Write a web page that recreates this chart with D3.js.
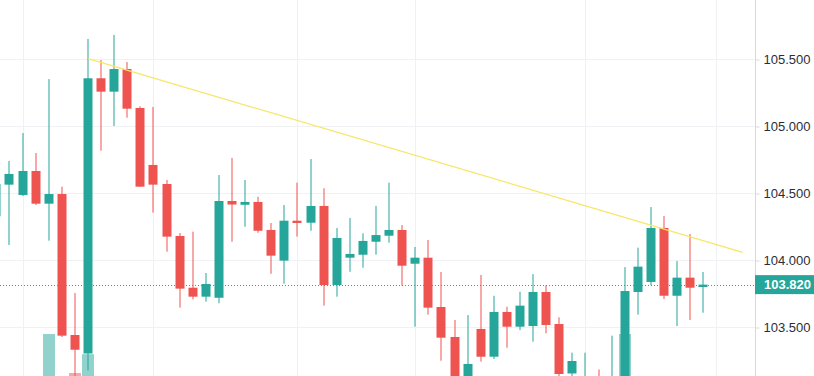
<!DOCTYPE html>
<html>
<head>
<meta charset="utf-8">
<script src="https://cdn.jsdelivr.net/npm/d3@7/dist/d3.min.js"></script>
<style>
  body { margin: 0; background: #fff; overflow: hidden; }
  .price-axis text { font-family: "Liberation Sans", Arial, sans-serif; font-size: 13px; fill: #2a2e39; }
  .price-axis line { stroke: #d6d9e0; }
  .last-label { font-family: "Liberation Sans", Arial, sans-serif; font-size: 13px; font-weight: bold; fill: #fff; }
</style>
</head>
<body>
<script>
// bar index -> OHLC (bars below the visible area are estimated)
const opens  = [104.33, 104.566, 104.489, 104.668, 104.424, 104.496, 103.444, 103.306, 105.360, 105.260,
                105.429, 105.138, 104.713, 104.571, 104.183, 103.797, 103.730, 103.722, 104.444, 104.416,
                104.437, 104.228, 103.999, 104.297, 104.282, 104.407, 103.817, 104.021, 104.043, 104.140,
                104.185, 104.228, 103.976, 104.021, 103.653, 103.429, 103.080, 103.489, 103.282, 103.616,
                103.506, 103.511, 103.765, 103.526, 103.157, 102.990, 103.100, 102.980, 103.110, 103.765,
                103.840, 104.243, 103.737, 103.872, 103.802];
const highs  = [104.62, 104.743, 104.951, 104.802, 105.354, 104.551, 103.757, 105.653, 105.496, 105.683,
                105.481, 105.151, 105.146, 104.601, 104.205, 104.215, 103.907, 104.638, 104.765, 104.601,
                104.476, 104.280, 104.414, 104.581, 104.757, 104.539, 104.243, 104.317, 104.203, 104.407,
                104.581, 104.265, 104.101, 104.153, 103.914, 103.556, 103.593, 103.892, 103.737, 103.655,
                103.767, 103.899, 103.815, 103.576, 103.312, 103.312, 103.187, 103.439, 103.951, 104.096,
                104.399, 104.332, 103.996, 104.198, 103.914];
const lows   = [104.30, 104.116, 104.481, 104.414, 104.148, 103.429, 103.100, 103.179, 104.819, 105.004,
                105.066, 104.549, 104.357, 104.066, 103.648, 103.710, 103.693, 103.681, 104.140, 104.252,
                104.207, 103.901, 103.827, 104.178, 104.222, 103.663, 103.730, 103.916, 103.946, 104.043,
                104.133, 103.812, 103.506, 103.596, 103.252, 103.020, 103.040, 103.245, 103.265, 103.349,
                103.481, 103.394, 103.457, 103.120, 103.090, 102.950, 102.940, 102.960, 103.060, 103.596,
                103.815, 103.713, 103.511, 103.556, 103.610];
const closes = [104.57, 104.646, 104.668, 104.424, 104.496, 103.439, 103.334, 105.360, 105.260, 105.429,
                105.133, 104.551, 104.566, 104.178, 103.790, 103.730, 103.825, 104.444, 104.418, 104.437,
                104.222, 104.036, 104.297, 104.280, 104.407, 103.817, 104.168, 104.049, 104.146, 104.190,
                104.228, 103.961, 104.021, 103.648, 103.424, 103.080, 103.228, 103.282, 103.616, 103.506,
                103.663, 103.765, 103.519, 103.153, 103.250, 103.100, 102.980, 103.110, 103.772, 103.954,
                104.243, 103.737, 103.872, 103.797, 103.820];
const volumes = [40, 35, 38, 42, 100, 60, 69, 84, 55, 50,
                 45, 58, 40, 48, 52, 30, 28, 55, 35, 30,
                 32, 36, 40, 28, 38, 55, 45, 25, 28, 26,
                 30, 40, 45, 50, 52, 58, 55, 45, 48, 40,
                 35, 42, 38, 55, 40, 48, 45, 50, 100, 52,
                 60, 58, 45, 42, 30];

const priceTicks = [103.5, 104.0, 104.5, 105.0, 105.5];
const timeGridBars = [2, 12, 23, 32, 45, 55];
const trendBars = [7, 57];
const trendPrices = [105.507, 104.061];
const lastPrice = 103.820;

const data = opens.map((o, i) => ({
  i, open: o, high: highs[i], low: lows[i], close: closes[i], volume: volumes[i]
}));

const W = 814, H = 376;
const axisX = 755.5;

const svg = d3.select(document.body).append('svg')
  .attr('width', W)
  .attr('height', H)
  .style('display', 'block');

const x = d3.scaleLinear().domain([0, 54]).range([-3.6, 703.3]);
const y = d3.scaleLinear().domain([103.5, 105.5]).range([327.5, 59.5]);
const vy = d3.scaleLinear().domain([0, 100]).range([460, 334]);

const up = '#26a69a', down = '#ef5350';
const bodyW = 9, volW = 12;

// grid
svg.append('g').selectAll('line')
  .data(priceTicks)
  .join('line')
  .attr('x1', 0).attr('x2', axisX)
  .attr('y1', d => y(d)).attr('y2', d => y(d))
  .attr('stroke', '#f0f1f4');

svg.append('g').selectAll('line')
  .data(timeGridBars)
  .join('line')
  .attr('x1', d => Math.round(x(d)) + 0.5).attr('x2', d => Math.round(x(d)) + 0.5)
  .attr('y1', 0).attr('y2', H)
  .attr('stroke', '#f0f1f4');

// volume
svg.append('g').selectAll('rect')
  .data(data)
  .join('rect')
  .attr('x', d => Math.round(x(d.i) - volW / 2))
  .attr('width', volW)
  .attr('y', d => vy(d.volume))
  .attr('height', d => vy(0) - vy(d.volume))
  .attr('fill', d => d.close >= d.open ? up : down)
  .attr('fill-opacity', 0.5);

// last price dotted line
svg.append('line')
  .attr('x1', 0).attr('x2', axisX)
  .attr('y1', Math.round(y(lastPrice)) + 0.5).attr('y2', Math.round(y(lastPrice)) + 0.5)
  .attr('stroke', up)
  .attr('stroke-dasharray', '1,2');

// candles
const candles = svg.append('g').selectAll('g')
  .data(data)
  .join('g')
  .attr('fill', d => d.close >= d.open ? up : down);

candles.append('rect')
  .attr('x', d => Math.round(x(d.i)) - 0.5)
  .attr('width', 1)
  .attr('y', d => y(d.high))
  .attr('height', d => y(d.low) - y(d.high));

candles.append('rect')
  .attr('x', d => Math.round(x(d.i)) - 4.5)
  .attr('width', bodyW)
  .attr('y', d => y(Math.max(d.open, d.close)))
  .attr('height', d => Math.max(1, Math.abs(y(d.open) - y(d.close))));

// trend line
svg.append('path')
  .datum(trendBars.map((b, k) => [x(b), y(trendPrices[k])]))
  .attr('d', d3.line())
  .attr('fill', 'none')
  .attr('stroke', '#f7e665')
  .attr('stroke-width', 1.2);

// price axis
svg.append('rect')
  .attr('x', axisX).attr('y', 0)
  .attr('width', W - axisX).attr('height', H)
  .attr('fill', '#fff');

svg.append('line')
  .attr('x1', axisX).attr('x2', axisX)
  .attr('y1', 0).attr('y2', H)
  .attr('stroke', '#d6d9e0');

const axis = svg.append('g')
  .attr('class', 'price-axis')
  .attr('transform', `translate(${axisX},0)`)
  .call(d3.axisRight(y).tickValues(priceTicks).tickFormat(d3.format('.3f')).tickSize(4).tickPadding(4));
axis.select('.domain').remove();

const ly = y(lastPrice);
svg.append('rect')
  .attr('x', axisX - 0.5).attr('y', ly - 9.5)
  .attr('width', W - axisX + 0.5).attr('height', 19)
  .attr('fill', up);
svg.append('text')
  .attr('class', 'last-label')
  .attr('x', 764).attr('y', ly)
  .attr('dy', '0.35em')
  .text(d3.format('.3f')(lastPrice));
</script>
</body>
</html>
